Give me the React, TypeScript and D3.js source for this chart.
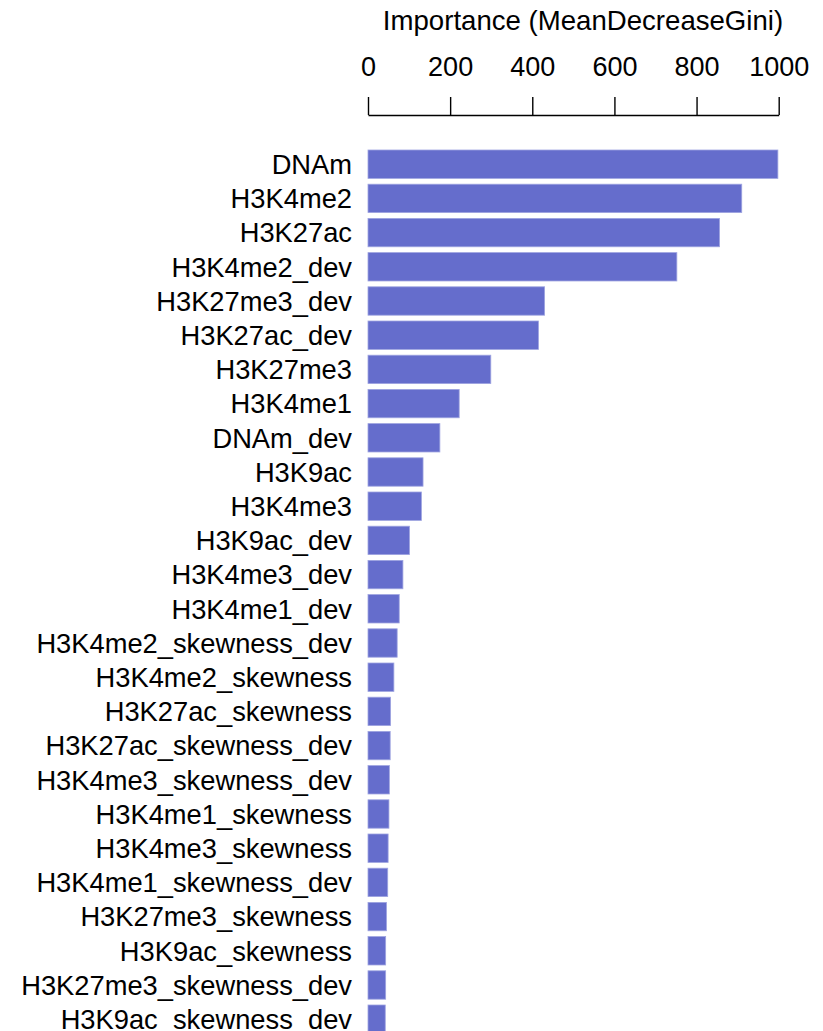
import React, { useEffect, useRef } from "react";
import * as d3 from "d3";

// Variable importance from the random forest, largest first
const features: string[] = [
  "DNAm",
  "H3K4me2",
  "H3K27ac",
  "H3K4me2_dev",
  "H3K27me3_dev",
  "H3K27ac_dev",
  "H3K27me3",
  "H3K4me1",
  "DNAm_dev",
  "H3K9ac",
  "H3K4me3",
  "H3K9ac_dev",
  "H3K4me3_dev",
  "H3K4me1_dev",
  "H3K4me2_skewness_dev",
  "H3K4me2_skewness",
  "H3K27ac_skewness",
  "H3K27ac_skewness_dev",
  "H3K4me3_skewness_dev",
  "H3K4me1_skewness",
  "H3K4me3_skewness",
  "H3K4me1_skewness_dev",
  "H3K27me3_skewness",
  "H3K9ac_skewness",
  "H3K27me3_skewness_dev",
  "H3K9ac_skewness_dev",
];

const importance: number[] = [
  998, 910, 856, 752, 430, 415, 299, 222, 175, 134, 130, 101, 85, 76, 71, 63,
  55, 54, 52, 51, 49, 48, 45, 43, 43, 42,
];

const xTicks: number[] = [0, 200, 400, 600, 800, 1000];
const axisTitle = "Importance (MeanDecreaseGini)";

const WIDTH = 823;
const HEIGHT = 1031;
const FONT = "'Liberation Sans', Arial, Helvetica, sans-serif";
const BAR_FILL = "#656dcc";

export default function App() {
  const ref = useRef<SVGSVGElement | null>(null);

  useEffect(() => {
    const svg = d3.select(ref.current);
    svg.selectAll("*").remove();

    const x = d3.scaleLinear().domain([0, 1000]).range([368, 778.7]);

    const step = 34.2;
    const pad = 0.17;
    const top = 150 - (step * pad) / 2;
    const y = d3
      .scaleBand<string>()
      .domain(features)
      .range([top, top + step * features.length])
      .paddingInner(pad)
      .paddingOuter(pad / 2);

    // Axis along the top
    const axisY = 115;
    const axis = d3
      .axisTop(x)
      .tickValues(xTicks)
      .tickFormat(d3.format("d"))
      .tickSizeInner(18)
      .tickSizeOuter(0)
      .tickPadding(21);

    const gAxis = svg
      .append("g")
      .attr("transform", `translate(0,${axisY})`)
      .call(axis);
    gAxis.selectAll("path, line").attr("stroke", "#000").attr("stroke-width", 1.4);
    gAxis
      .selectAll("text")
      .attr("font-family", FONT)
      .attr("font-size", 27)
      .attr("fill", "#000");

    svg
      .append("text")
      .attr("x", 583)
      .attr("y", 30)
      .attr("text-anchor", "middle")
      .attr("font-family", FONT)
      .attr("font-size", 27.6)
      .attr("fill", "#000")
      .text(axisTitle);

    // Bars
    svg
      .append("g")
      .selectAll("rect")
      .data(features)
      .join("rect")
      .attr("x", x(0))
      .attr("y", (d) => y(d) as number)
      .attr("width", (d, i) => x(importance[i]) - x(0))
      .attr("height", y.bandwidth())
      .attr("fill", BAR_FILL)
      .attr("stroke", "#9ea4e0")
      .attr("stroke-width", 0.8);

    // Category labels
    svg
      .append("g")
      .selectAll("text")
      .data(features)
      .join("text")
      .attr("x", 352)
      .attr("y", (d) => (y(d) as number) + y.bandwidth() / 2)
      .attr("dy", "0.36em")
      .attr("text-anchor", "end")
      .attr("font-family", FONT)
      .attr("font-size", 27.3)
      .attr("fill", "#000")
      .text((d) => d);
  }, []);

  return (
    <svg
      ref={ref}
      width={WIDTH}
      height={HEIGHT}
      style={{ position: "absolute", left: 0, top: 0, background: "#fff" }}
    />
  );
}
